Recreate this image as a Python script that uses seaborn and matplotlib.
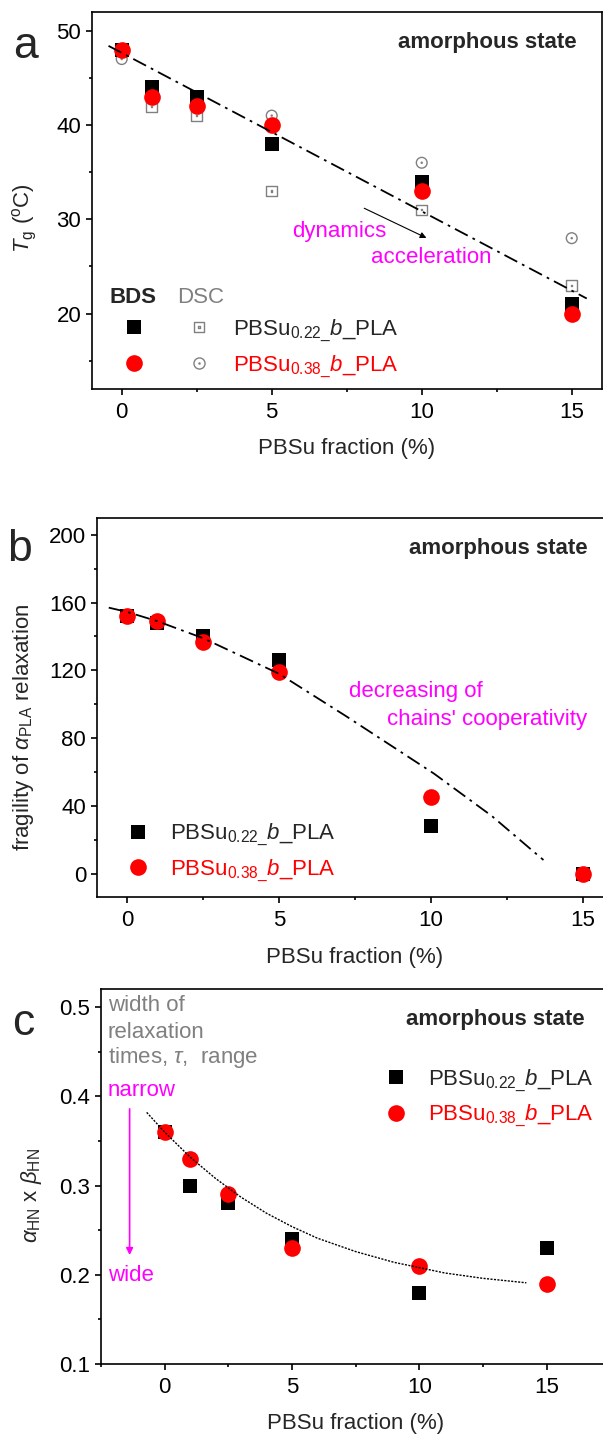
import numpy as np
import seaborn as sns
import matplotlib.pyplot as plt
from matplotlib.path import Path
from matplotlib.lines import Line2D
from matplotlib.legend_handler import HandlerTuple
from matplotlib.ticker import MultipleLocator

# ---- data ----
frac = [0, 1, 2.5, 5, 10, 15]

# (a) glass transition temperature
tg_bds_022 = [48, 44, 43, 38, 34, 21]
tg_bds_038 = [48, 43, 42, 40, 33, 20]
tg_dsc_022 = [48, 42, 41, 33, 31, 23]
tg_dsc_038 = [47, 43, 42, 41, 36, 28]
tg_fit_x = [-0.44, 15.5]
tg_fit_y = [48.4, 21.6]

# (b) fragility
frag_022 = [152, 148, 140, 126, 28, 0]
frag_038 = [152, 149, 137, 119, 45, 0]
frag_fit_x = [-0.6, 0, 1, 2.5, 5, 7.2, 10.1, 12, 13.7]
frag_fit_y = [157, 154.5, 149, 139, 118, 93, 59, 34, 8]

# (c) alpha_HN x beta_HN
shape_022 = [0.36, 0.30, 0.28, 0.24, 0.18, 0.23]
shape_038 = [0.36, 0.33, 0.29, 0.23, 0.21, 0.19]
shape_fit_x = [-0.7, 0, 1, 2, 3, 4, 5, 6, 7.5, 9, 10, 11, 12.5, 14.2]
shape_fit_y = [0.382, 0.36, 0.332, 0.308, 0.287, 0.269, 0.254, 0.241, 0.226, 0.214, 0.208, 0.202, 0.196, 0.191]

LABEL_022 = r"PBSu$_{\mathregular{0.22\_}}\mathit{b}$_PLA"
LABEL_038 = r"PBSu$_{\mathregular{0.38\_}}\mathit{b}$_PLA"

RED = "#ff0000"
MAGENTA = "#ff00ff"
GRAY = "#808080"
FS = 16

sns.set_style("ticks")
plt.rcParams["font.family"] = ["Liberation Sans", "DejaVu Sans"]
plt.rcParams["mathtext.fontset"] = "custom"
plt.rcParams["mathtext.rm"] = "Liberation Sans"
plt.rcParams["mathtext.it"] = "Liberation Sans:italic"
plt.rcParams["mathtext.bf"] = "Liberation Sans:bold"
plt.rcParams["axes.linewidth"] = 1.2

# open markers with a dot in the middle (DSC)
codes = [Path.MOVETO, Path.LINETO, Path.LINETO, Path.LINETO, Path.CLOSEPOLY]
sq_out = Path([(-1, -1), (1, -1), (1, 1), (-1, 1), (-1, -1)], codes)
sq_in = Path([(-.1, -.1), (.1, -.1), (.1, .1), (-.1, .1), (-.1, -.1)], codes)
BOXDOT = Path.make_compound_path(sq_out, sq_in)
CIRCDOT = Path.make_compound_path(Path.unit_circle(), Path.circle(radius=0.1))

SQ_S, CI_S, DSC_S = 92, 144, 60


def style_axes(ax, xlim, ylim, ymaj, ymin):
    ax.set_xlim(*xlim)
    ax.set_ylim(*ylim)
    ax.xaxis.set_major_locator(MultipleLocator(5))
    ax.xaxis.set_minor_locator(MultipleLocator(2.5))
    ax.yaxis.set_major_locator(MultipleLocator(ymaj))
    ax.yaxis.set_minor_locator(MultipleLocator(ymin))
    ax.tick_params(which="both", direction="out", top=False, right=False,
                   width=1.2, labelsize=FS, colors="black")
    ax.tick_params(which="major", length=4.5, pad=3)
    ax.tick_params(which="minor", length=2.5)
    ax.tick_params(axis="x", pad=5)
    for s in ax.spines.values():
        s.set_visible(True)
        s.set_color("black")
        s.set_linewidth(1.2)
    ax.set_xlabel("PBSu fraction (%)", fontsize=FS, labelpad=11)
    ax.text(0.95, 0.92, "amorphous state", transform=ax.transAxes,
            ha="right", va="center", fontsize=FS, fontweight="bold")


def bds_points(ax, y022, y038):
    sns.scatterplot(x=frac, y=y022, marker="s", s=SQ_S, color="black",
                    edgecolor="black", linewidth=0, ax=ax, zorder=4, legend=False)
    sns.scatterplot(x=frac, y=y038, marker="o", s=CI_S, color=RED,
                    edgecolor=RED, linewidth=0, ax=ax, zorder=5, legend=False)


fig = plt.figure(figsize=(6.03, 14.37), dpi=100)
ax_a = fig.add_axes([0.1521, 0.7293, 0.8458, 0.2624])
ax_b = fig.add_axes([0.1602, 0.3756, 0.8570, 0.2640])
ax_c = fig.add_axes([0.1672, 0.0508, 0.8451, 0.2608])

# ---------------- (a) ----------------
ax = ax_a
sns.scatterplot(x=frac, y=tg_dsc_022, marker=BOXDOT, s=DSC_S, fc="none",
                ec=GRAY, linewidth=1, ax=ax, zorder=3, legend=False)
sns.scatterplot(x=frac, y=tg_dsc_038, marker=CIRCDOT, s=DSC_S, fc="none",
                ec=GRAY, linewidth=1, ax=ax, zorder=3, legend=False)
bds_points(ax, tg_bds_022, tg_bds_038)
sns.lineplot(x=tg_fit_x, y=tg_fit_y, color="black", lw=1.3,
             linestyle=(0, (8, 3, 1.5, 3)), sort=False, estimator=None, ax=ax, zorder=6)
style_axes(ax, (-1, 16), (12, 52), 10, 5)
ax.set_ylabel(r"$T_{\mathregular{g}}$ ($^{\mathregular{o}}$C)", fontsize=FS)
ax.yaxis.set_label_coords(-0.104, 0.454)
ax.text(5.68, 28.75, "dynamics", color=MAGENTA, fontsize=FS, ha="left", va="center")
ax.text(8.31, 25.9, "acceleration", color=MAGENTA, fontsize=FS, ha="left", va="center")
ax.annotate("", xy=(10.24, 27.9), xytext=(8.0, 31.3),
            arrowprops=dict(arrowstyle="-|>", color="black", lw=0.8, mutation_scale=9))
ax.text(0.081, 0.2414, "BDS", transform=ax.transAxes, ha="center", va="center",
        fontsize=FS, fontweight="bold")
ax.text(0.2143, 0.2414, "DSC", transform=ax.transAxes, ha="center", va="center",
        fontsize=FS, color=GRAY)
h1 = (Line2D([], [], ls="none", marker="s", ms=9.6, mfc="black", mec="black", mew=0),
      Line2D([], [], ls="none", marker=BOXDOT, ms=7.7, mfc="none", mec=GRAY, mew=1))
h2 = (Line2D([], [], ls="none", marker="o", ms=12, mfc=RED, mec=RED, mew=0),
      Line2D([], [], ls="none", marker=CIRCDOT, ms=8, mfc="none", mec=GRAY, mew=1))
leg = ax.legend([h1, h2], [LABEL_022, LABEL_038],
                handler_map={tuple: HandlerTuple(ndivide=None, pad=0)},
                loc="center left", bbox_to_anchor=(0.0192, 0.1074), frameon=False,
                fontsize=FS, handlelength=5.86, handletextpad=0.054,
                borderpad=0, borderaxespad=0, labelspacing=0.42)
leg.get_texts()[1].set_color(RED)

# ---------------- (b) ----------------
ax = ax_b
bds_points(ax, frag_022, frag_038)
sns.lineplot(x=frag_fit_x, y=frag_fit_y, color="black", lw=1.3,
             linestyle=(0, (8, 3, 1.5, 3)), sort=False, estimator=None, ax=ax, zorder=6)
style_axes(ax, (-1, 16), (-14, 210), 40, 20)
ax.set_ylabel(r"fragility of $\alpha_{\mathregular{PLA}}$ relaxation", fontsize=FS)
ax.yaxis.set_label_coords(-0.117, 0.449)
ax.text(7.3, 107.3, "decreasing of", color=MAGENTA, fontsize=FS, ha="left", va="center")
ax.text(8.54, 91.2, "chains' cooperativity", color=MAGENTA, fontsize=FS,
        ha="left", va="center")
hb = [Line2D([], [], ls="none", marker="s", ms=9.6, mfc="black", mec="black", mew=0),
      Line2D([], [], ls="none", marker="o", ms=12, mfc=RED, mec=RED, mew=0)]
leg = ax.legend(hb, [LABEL_022, LABEL_038], loc="center left",
                bbox_to_anchor=(0.047, 0.117), frameon=False, fontsize=FS,
                handlelength=1.5, handletextpad=0.73, borderpad=0,
                borderaxespad=0, labelspacing=0.42)
leg.get_texts()[1].set_color(RED)

# ---------------- (c) ----------------
ax = ax_c
bds_points(ax, shape_022, shape_038)
sns.lineplot(x=shape_fit_x, y=shape_fit_y, color="black", lw=1.0,
             linestyle=(0, (1.5, 1.0)), sort=False, estimator=None, ax=ax, zorder=6)
style_axes(ax, (-2.5, 17.5), (0.1, 0.52), 0.1, 0.05)
ax.set_ylabel(r"$\alpha_{\mathregular{HN}}$ x $\beta_{\mathregular{HN}}$", fontsize=FS)
ax.yaxis.set_label_coords(-0.111, 0.45)
for txt, yy in [("width of", 0.502), ("relaxation", 0.472),
                (r"times, $\tau$,  range", 0.443)]:
    ax.text(-2.23, yy, txt, color=GRAY, fontsize=FS, ha="left", va="center")
ax.text(-2.23, 0.4067, "narrow", color=MAGENTA, fontsize=FS, ha="left", va="center")
ax.text(-2.23, 0.199, "wide", color=MAGENTA, fontsize=FS, ha="left", va="center")
ax.annotate("", xy=(-1.37, 0.219), xytext=(-1.37, 0.389),
            arrowprops=dict(arrowstyle="-|>", color=MAGENTA, lw=1.2, mutation_scale=10))
leg = ax.legend(hb, [LABEL_022, LABEL_038], loc="center left",
                bbox_to_anchor=(0.5457, 0.7091), frameon=False, fontsize=FS,
                handlelength=1.5, handletextpad=0.73, borderpad=0,
                borderaxespad=0, labelspacing=0.42)
leg.get_texts()[1].set_color(RED)

# panel letters
fig.text(0.0431, 0.9673, "a", fontsize=32, ha="center", va="center")
fig.text(0.0323, 0.6173, "b", fontsize=32, ha="center", va="center")
fig.text(0.0381, 0.2881, "c", fontsize=32, ha="center", va="center")

fig.savefig("out.png", dpi=100)
